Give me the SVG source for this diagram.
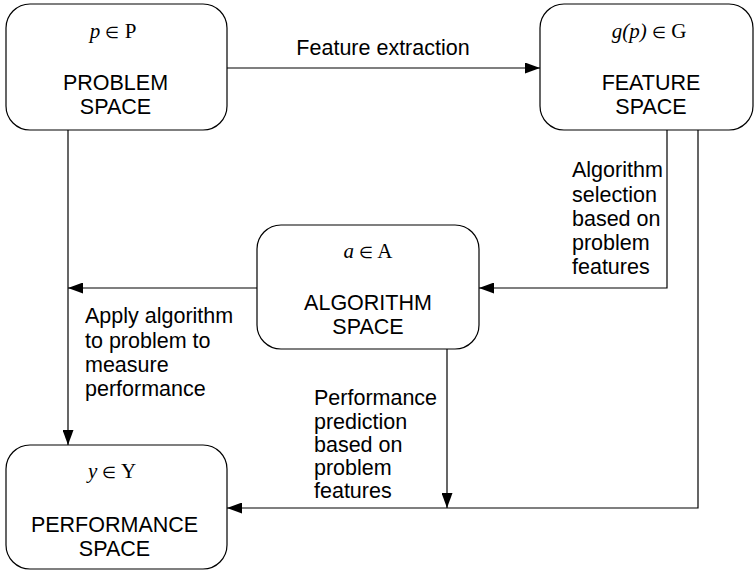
<svg xmlns="http://www.w3.org/2000/svg" width="754" height="572" viewBox="0 0 754 572">
  <style>
    .box { fill: #ffffff; stroke: #000000; stroke-width: 1.2; }
    .title { font-family: "Liberation Sans", Arial, sans-serif; font-size: 21.5px; text-anchor: middle; fill: #000; }
    .math { font-family: "Liberation Serif", "Times New Roman", serif; font-size: 21px; text-anchor: middle; fill: #000; }
    .math .v { font-style: italic; }
    .math .op { font-size: 16px; }
    .lbl { font-family: "Liberation Sans", Arial, sans-serif; font-size: 21.5px; fill: #000; }
    .conn { fill: none; stroke: #000000; stroke-width: 1.2; }
  </style>
  <defs>
    <marker id="arrow" viewBox="0 0 15 11" refX="15" refY="5.5" markerWidth="15" markerHeight="11" markerUnits="userSpaceOnUse" orient="auto">
      <path d="M0,0 L15,5.5 L0,11 Z" fill="#000"/>
    </marker>
  </defs>

  <rect width="754" height="572" fill="#ffffff"/>

  <g id="connectors">
    <!-- problem -> feature -->
    <line class="conn" x1="227" y1="68" x2="540" y2="68" marker-end="url(#arrow)"/>
    <!-- problem -> performance -->
    <line class="conn" x1="68" y1="130" x2="68" y2="445" marker-end="url(#arrow)"/>
    <!-- algorithm -> problem/performance line -->
    <line class="conn" x1="257" y1="288" x2="68" y2="288" marker-end="url(#arrow)"/>
    <!-- feature -> algorithm -->
    <polyline class="conn" points="667,130 667,288 479,288" marker-end="url(#arrow)"/>
    <!-- feature -> performance -->
    <polyline class="conn" points="698,130 698,508 227,508" marker-end="url(#arrow)"/>
    <!-- algorithm -> feature/performance line -->
    <line class="conn" x1="447" y1="349" x2="447" y2="508" marker-end="url(#arrow)"/>

    <text class="lbl" x="383" y="55" text-anchor="middle">Feature extraction</text>
    <text class="lbl">
      <tspan x="572" y="177">Algorithm</tspan>
      <tspan x="572" y="201.5">selection</tspan>
      <tspan x="572" y="226">based on</tspan>
      <tspan x="572" y="250">problem</tspan>
      <tspan x="572" y="274">features</tspan>
    </text>
    <text class="lbl">
      <tspan x="85" y="323">Apply algorithm</tspan>
      <tspan x="85" y="347.5">to problem to</tspan>
      <tspan x="85" y="372">measure</tspan>
      <tspan x="85" y="396">performance</tspan>
    </text>
    <text class="lbl">
      <tspan x="314" y="405">Performance</tspan>
      <tspan x="314" y="428.5">prediction</tspan>
      <tspan x="314" y="452">based on</tspan>
      <tspan x="314" y="475">problem</tspan>
      <tspan x="314" y="498">features</tspan>
    </text>
  </g>

  <g id="problem-space">
    <rect class="box" x="6" y="4" width="221" height="126" rx="24" ry="24"/>
    <text class="math" x="113" y="38"><tspan class="v">p</tspan> <tspan class="op">∈</tspan> P</text>
    <text class="title" x="115.5" y="90">PROBLEM</text>
    <text class="title" x="115.5" y="114">SPACE</text>
  </g>

  <g id="feature-space">
    <rect class="box" x="540" y="4" width="213" height="126" rx="24" ry="24"/>
    <text class="math" x="649" y="38"><tspan class="v">g(p)</tspan> <tspan class="op">∈</tspan> G</text>
    <text class="title" x="651" y="90">FEATURE</text>
    <text class="title" x="651" y="114">SPACE</text>
  </g>

  <g id="algorithm-space">
    <rect class="box" x="257" y="225" width="222" height="124" rx="24" ry="24"/>
    <text class="math" x="368" y="258"><tspan class="v">a</tspan> <tspan class="op">∈</tspan> A</text>
    <text class="title" x="368" y="310">ALGORITHM</text>
    <text class="title" x="368" y="334">SPACE</text>
  </g>

  <g id="performance-space">
    <rect class="box" x="6" y="445" width="221" height="124" rx="24" ry="24"/>
    <text class="math" x="112" y="478"><tspan class="v">y</tspan> <tspan class="op">∈</tspan> Y</text>
    <text class="title" x="114.5" y="532">PERFORMANCE</text>
    <text class="title" x="114.5" y="556">SPACE</text>
  </g>
</svg>
